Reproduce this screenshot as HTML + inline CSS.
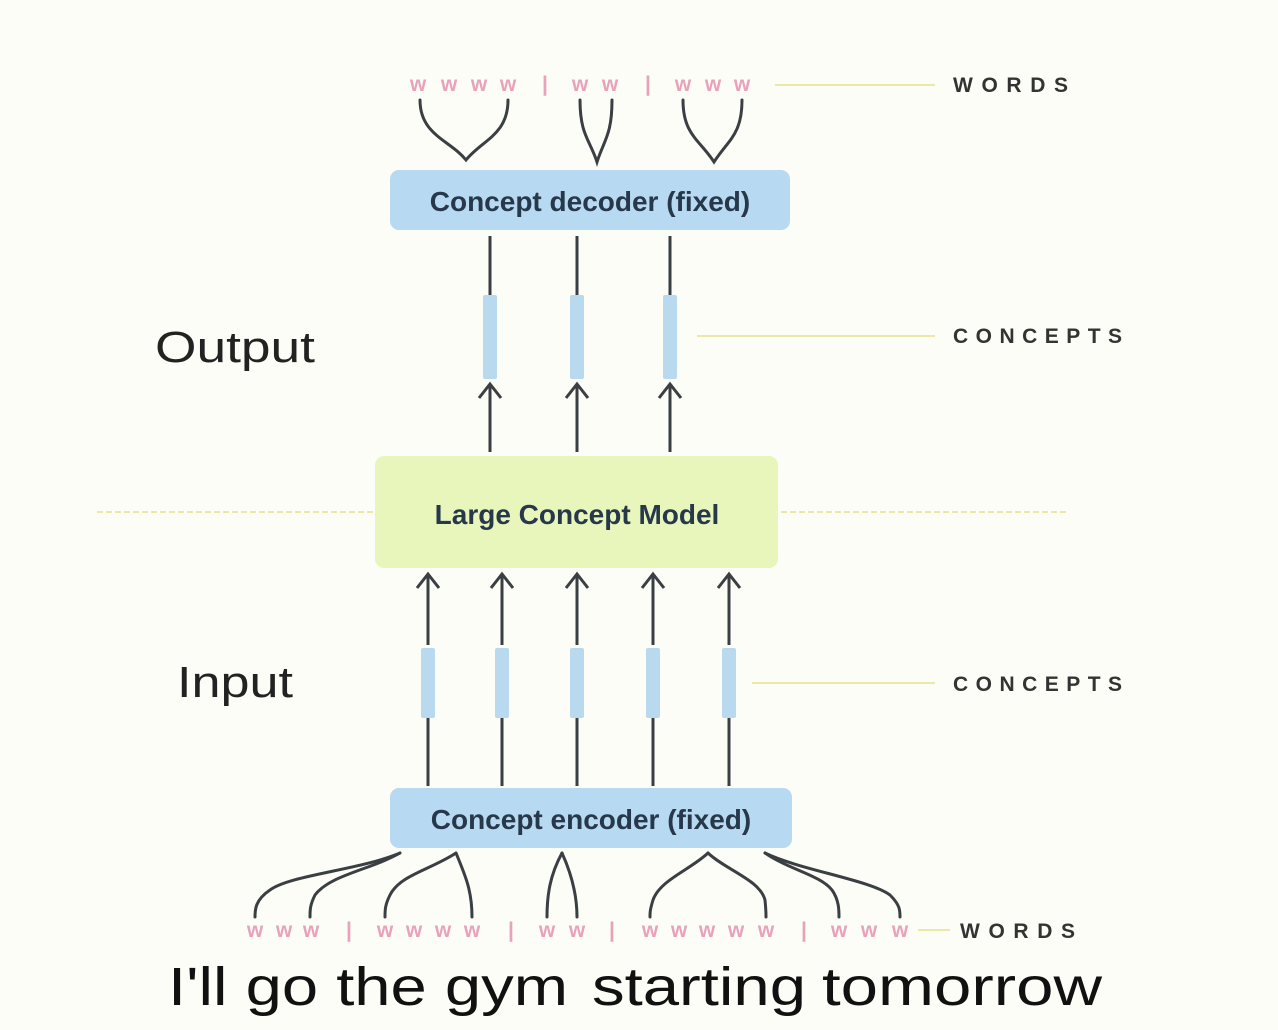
<!DOCTYPE html>
<html><head><meta charset="utf-8"><style>
html,body{margin:0;padding:0;background:#fdfdf7;}
svg{display:block;}
text{font-family:"Liberation Sans",sans-serif;}
</style></head><body>
<svg width="1278" height="1030" viewBox="0 0 1278 1030" xmlns="http://www.w3.org/2000/svg">
<rect width="1278" height="1030" fill="#fdfdf7"/>
<g stroke="#ece9a8" stroke-width="2">
<line x1="775" y1="85" x2="935" y2="85"/>
<line x1="697" y1="336" x2="935" y2="336"/>
<line x1="752" y1="683" x2="935" y2="683"/>
<line x1="918" y1="930" x2="950" y2="930"/>
</g>
<line x1="97" y1="512" x2="1068" y2="512" stroke="#ece9a8" stroke-width="2" stroke-dasharray="6,3"/>
<g font-weight="bold" font-size="21" fill="#333">
<text x="953" y="92" textLength="115" lengthAdjust="spacing">WORDS</text>
<text x="953" y="343" textLength="169" lengthAdjust="spacing">CONCEPTS</text>
<text x="953" y="691" textLength="169" lengthAdjust="spacing">CONCEPTS</text>
<text x="960" y="938" textLength="115" lengthAdjust="spacing">WORDS</text>
</g>
<text x="155" y="362" font-size="44" fill="#222" textLength="160" lengthAdjust="spacingAndGlyphs">Output</text>
<text x="177" y="697" font-size="44" fill="#222" textLength="116" lengthAdjust="spacingAndGlyphs">Input</text>
<g fill="#e8a2bc" font-size="21" font-weight="bold" text-anchor="middle">
<text x="418" y="91">w</text><text x="449" y="91">w</text><text x="479" y="91">w</text><text x="508" y="91">w</text>
<text x="545" y="91">|</text>
<text x="580" y="91">w</text><text x="610" y="91">w</text>
<text x="648" y="91">|</text>
<text x="683" y="91">w</text><text x="713" y="91">w</text><text x="742" y="91">w</text>
</g>
<g fill="none" stroke="#3a3f44" stroke-width="3" stroke-linecap="round">
<path d="M420 100 C420 135 450 140 466 160 C482 140 508 135 508 100"/>
<path d="M580 100 C580 135 590 140 597 162 C604 140 612 135 612 100"/>
<path d="M683 100 C683 135 700 140 714 162 C728 140 742 135 742 100"/>
</g>
<rect x="390" y="170" width="400" height="60" rx="9" fill="#b8d9f2"/>
<text x="590" y="211" font-size="28" fill="#26384a" text-anchor="middle" font-weight="bold">Concept decoder (fixed)</text>
<g stroke="#3a3f44" stroke-width="3" fill="none">
<line x1="490" y1="236" x2="490" y2="296"/><line x1="577" y1="236" x2="577" y2="296"/><line x1="670" y1="236" x2="670" y2="296"/>
<line x1="490" y1="384" x2="490" y2="452"/><line x1="577" y1="384" x2="577" y2="452"/><line x1="670" y1="384" x2="670" y2="452"/>
<path d="M479 398 L490 384 L501 398"/><path d="M566 398 L577 384 L588 398"/><path d="M659 398 L670 384 L681 398"/>
</g>
<g fill="#b8d9ee">
<rect x="483" y="295" width="14" height="84" rx="2"/><rect x="570" y="295" width="14" height="84" rx="2"/><rect x="663" y="295" width="14" height="84" rx="2"/>
</g>
<rect x="375" y="456" width="403" height="112" rx="9" fill="#e8f6bb"/>
<text x="577" y="524" font-size="28" fill="#26384a" text-anchor="middle" font-weight="bold">Large Concept Model</text>
<g stroke="#3a3f44" stroke-width="3" fill="none">
<line x1="428" y1="574" x2="428" y2="645"/><line x1="502" y1="574" x2="502" y2="645"/><line x1="577" y1="574" x2="577" y2="645"/><line x1="653" y1="574" x2="653" y2="645"/><line x1="729" y1="574" x2="729" y2="645"/>
<path d="M417 588 L428 574 L439 588"/><path d="M491 588 L502 574 L513 588"/><path d="M566 588 L577 574 L588 588"/><path d="M642 588 L653 574 L664 588"/><path d="M718 588 L729 574 L740 588"/>
<line x1="428" y1="718" x2="428" y2="786"/><line x1="502" y1="718" x2="502" y2="786"/><line x1="577" y1="718" x2="577" y2="786"/><line x1="653" y1="718" x2="653" y2="786"/><line x1="729" y1="718" x2="729" y2="786"/>
</g>
<g fill="#b8d9ee">
<rect x="421" y="648" width="14" height="70" rx="2"/><rect x="495" y="648" width="14" height="70" rx="2"/><rect x="570" y="648" width="14" height="70" rx="2"/><rect x="646" y="648" width="14" height="70" rx="2"/><rect x="722" y="648" width="14" height="70" rx="2"/>
</g>
<rect x="390" y="788" width="402" height="60" rx="9" fill="#b8d9f2"/>
<text x="591" y="829" font-size="28" fill="#26384a" text-anchor="middle" font-weight="bold">Concept encoder (fixed)</text>
<g fill="none" stroke="#3a3f44" stroke-width="3" stroke-linecap="round">
<path d="M400 853 C360 870 290 875 270 890 C255 900 255 910 255 917"/>
<path d="M400 853 C370 870 330 875 315 895 C310 905 310 910 310 917"/>
<path d="M456 853 C430 870 400 875 390 895 C385 905 385 910 385 917"/>
<path d="M456 853 C465 875 472 890 472 917"/>
<path d="M562 853 C550 875 547 895 547 917"/>
<path d="M562 853 C572 875 577 895 577 917"/>
<path d="M708 853 C690 870 660 880 653 900 C650 910 650 912 650 917"/>
<path d="M708 853 C726 870 760 880 765 900 C766 910 766 912 766 917"/>
<path d="M765 853 C790 870 820 875 832 890 C839 900 839 910 839 917"/>
<path d="M765 853 C800 870 870 880 890 895 C900 905 900 910 900 917"/>
</g>
<g fill="#e8a2bc" font-size="21" font-weight="bold" text-anchor="middle">
<text x="255" y="937">w</text><text x="284" y="937">w</text><text x="311" y="937">w</text>
<text x="349" y="937">|</text>
<text x="385" y="937">w</text><text x="414" y="937">w</text><text x="443" y="937">w</text><text x="472" y="937">w</text>
<text x="511" y="937">|</text>
<text x="547" y="937">w</text><text x="577" y="937">w</text>
<text x="612" y="937">|</text>
<text x="650" y="937">w</text><text x="679" y="937">w</text><text x="707" y="937">w</text><text x="736" y="937">w</text><text x="766" y="937">w</text>
<text x="804" y="937">|</text>
<text x="839" y="937">w</text><text x="869" y="937">w</text><text x="900" y="937">w</text>
</g>
<g font-size="54" fill="#111">
<text x="168" y="1005" textLength="400" lengthAdjust="spacingAndGlyphs">I'll go the gym</text>
<text x="592" y="1005" textLength="214" lengthAdjust="spacingAndGlyphs">starting</text>
<text x="822" y="1005" textLength="280" lengthAdjust="spacingAndGlyphs">tomorrow</text>
</g>
</svg>
</body></html>
